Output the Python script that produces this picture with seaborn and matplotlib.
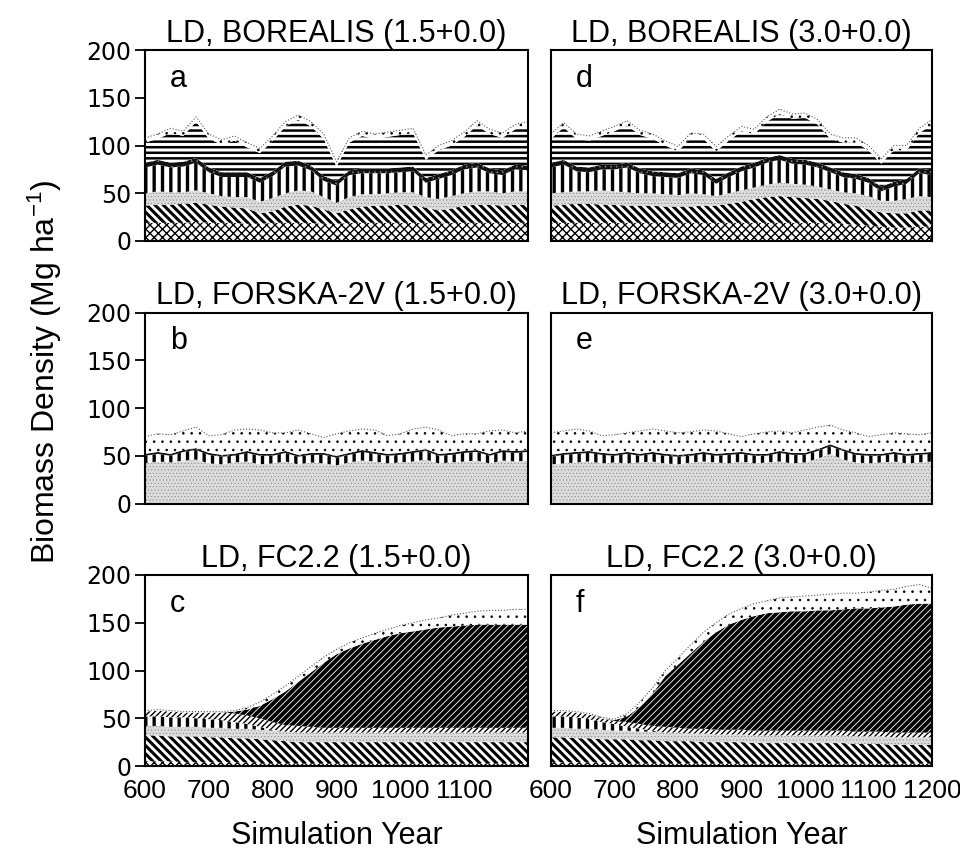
import numpy as np
import matplotlib
matplotlib.use("Agg")
import matplotlib.pyplot as plt
import seaborn as sns

sns.set_style("white")
plt.rcParams['font.family'] = ['Liberation Sans', 'DejaVu Sans']
plt.rcParams['mathtext.default'] = 'regular'
for k in ['text.color', 'axes.labelcolor', 'xtick.color', 'ytick.color', 'axes.edgecolor']:
    plt.rcParams[k] = 'black'

years = np.arange(600, 1201, 20)

# ---- Panel a: LD, BOREALIS (1.5+0.0) -- cumulative layer tops (Mg/ha)
a_cross = [19,19,19,19,20,19,19,19,18,18,19,19,19,19,18,18,19,19,19,19,19,19,19,18,19,19,19,19,19,19,19]
a_diag  = [37,38,38,39,40,38,36,35,34,29,31,36,38,37,33,29,33,36,37,37,38,37,35,32,34,37,38,38,37,38,38]
a_stip  = [50,52,51,51,53,50,47,46,46,41,45,50,53,52,46,40,46,49,49,50,51,51,46,44,47,50,52,52,50,52,52]
a_vert  = [77,80,77,78,82,72,67,67,67,61,68,78,79,74,63,58,69,71,71,71,72,73,61,65,69,75,77,71,69,75,74]
a_dark  = [82,85,82,83,87,77,72,72,72,66,73,83,84,79,68,63,74,76,76,76,77,78,66,70,74,80,82,76,74,80,79]
a_horiz = [103,107,113,110,125,107,101,105,98,92,105,120,127,120,107,78,103,110,107,109,111,113,85,95,100,109,121,112,108,117,120]
a_total = [108,112,118,115,130,112,106,110,103,97,110,125,132,125,112,83,108,115,112,114,116,118,90,100,105,114,126,117,113,122,125]

# ---- Panel d: LD, BOREALIS (3.0+0.0)
d_cross = [19,19,19,19,19,19,19,19,19,19,19,19,19,19,19,19,19,19,19,19,19,19,19,18,17,16,15,14,14,15,15]
d_diag  = [37,38,39,39,38,38,37,37,37,36,36,36,37,37,39,41,44,46,47,46,45,44,42,39,37,33,30,29,29,32,32]
d_stip  = [50,51,52,52,53,52,51,50,50,49,48,50,49,47,50,53,56,59,61,60,59,57,54,51,50,47,42,42,44,47,46]
d_vert  = [77,80,73,72,75,75,77,71,68,67,66,71,69,60,67,73,77,82,85,81,80,77,72,67,65,61,52,57,60,71,69]
d_dark  = [82,85,78,77,80,80,82,76,73,72,71,76,74,65,72,78,82,87,90,86,85,82,77,72,70,66,57,62,65,76,74]
d_horiz = [107,119,107,105,110,115,121,111,107,100,94,108,107,94,105,115,112,125,133,128,129,122,107,103,103,95,81,95,95,113,122]
d_total = [112,124,112,110,115,120,126,116,112,105,99,113,112,99,110,120,117,130,138,133,134,127,112,108,108,100,86,100,100,118,127]

# ---- Panel b: LD, FORSKA-2V (1.5+0.0)
b_stip  = [42,44,43,45,46,42,41,43,44,41,42,44,41,43,42,40,43,45,44,42,43,44,46,42,43,44,45,42,45,44,45]
b_vert  = [50,52,50,54,56,51,49,50,53,50,50,53,49,51,51,48,51,54,52,50,51,53,55,50,51,53,54,50,54,53,54]
b_dark  = [52,54,52,56,58,53,51,52,55,52,52,55,51,53,53,50,53,56,54,52,53,55,57,52,53,55,56,52,56,55,56]
b_total = [70,73,72,76,80,71,72,77,78,77,74,74,77,73,69,73,76,78,77,71,73,78,80,77,71,73,73,76,77,74,76]

# ---- Panel e: LD, FORSKA-2V (3.0+0.0)
e_stip  = [41,42,43,44,42,43,42,43,44,42,41,43,44,43,42,44,42,43,44,42,43,47,52,46,43,42,43,44,42,43,44]
e_vert  = [49,51,52,53,51,50,52,50,52,50,49,50,52,50,51,52,50,50,53,51,51,55,60,55,51,50,50,52,50,51,52]
e_dark  = [51,53,54,55,53,52,54,52,54,52,51,52,54,52,53,54,52,52,55,53,53,57,62,57,53,52,52,54,52,53,54]
e_total = [74,76,78,76,71,72,74,76,78,76,74,75,77,76,73,70,73,75,76,74,77,80,82,77,74,70,72,74,73,72,74]

# ---- Panel c: LD, FC2.2 (1.5+0.0)
c_cross = [5,5,5,4,4,4,4,4,4,3,3,3,3,3,3,3,3,3,3,3,3,3,3,3,3,3,3,3,3,3,3]
c_diag  = [32,32,31,31,31,30,30,29,29,28,27,26,25,25,25,25,25,25,25,25,25,25,25,25,25,25,25,25,25,25,25]
c_stip  = [42,42,41,41,41,40,40,39,39,38,37,36,35,35,35,35,35,35,35,35,35,35,35,35,35,35,35,35,35,35,35]
c_vert  = [52,52,51,51,50,49,48,46,44,41,38,36,35,35,35,35,35,35,35,35,35,35,35,35,35,35,35,35,35,35,35]
c_fwd   = [57,58,57,56,56,56,56,55,53,50,46,43,42,41,40,40,40,40,40,40,40,40,40,40,40,40,40,40,40,40,40]
c_black = [57,58,57,56,56,56,56,57,59,63,70,78,88,98,108,117,123,128,132,136,139,141,143,145,146,147,148,148,148,148,148]
c_total = [58,59,58,57,57,57,57,58,61,67,75,84,94,104,114,122,129,134,139,143,147,150,153,155,158,160,162,163,163,164,164]

# ---- Panel f: LD, FC2.2 (3.0+0.0)
f_cross = [4,4,4,4,4,4,3,3,3,3,3,3,3,3,3,3,3,3,3,3,3,3,3,3,3,3,3,3,3,3,3]
f_diag  = [30,30,29,29,28,28,28,27,27,26,26,26,25,25,25,25,24,24,24,24,24,24,24,24,23,23,23,22,22,22,22]
f_stip  = [40,40,39,39,38,37,37,36,36,35,35,34,34,33,33,33,32,32,32,32,32,32,32,32,31,31,31,30,30,30,30]
f_vert  = [52,52,51,49,46,44,41,39,37,35,35,34,34,33,33,33,32,32,32,32,32,32,32,32,31,31,31,30,30,30,30]
f_fwd   = [57,57,56,54,50,47,46,44,42,41,40,39,39,38,38,38,37,37,37,37,37,37,37,37,36,36,36,35,35,35,35]
f_black = [57,57,56,54,50,48,52,62,76,94,106,118,130,140,148,153,157,160,161,162,162,163,163,164,165,165,166,167,169,170,170]
f_total = [58,58,57,55,51,49,55,67,82,100,113,127,140,150,159,165,170,173,176,177,178,179,180,181,181,182,184,185,188,190,186]

STYLE = {
    'cross': dict(fc='white', ec='black', hatch='xxxx', hlw=1.0),
    'diag':  dict(fc='white', ec='black', hatch='\\' * 4, hlw=2.2),
    'stip':  dict(fc='#dcdcdc', ec='#8a8a8a', hatch='.....', hlw=0.4),
    'vert':  dict(fc='white', ec='black', hatch='||', hlw=2.4),
    'dark':  dict(fc='#111111', ec='#888888', hatch='...', hlw=0.4),
    'horiz': dict(fc='white', ec='black', hatch='---', hlw=1.8),
    'dots':  dict(fc='white', ec='black', hatch='..', hlw=0.6),
    'fwd':   dict(fc='white', ec='black', hatch='//////', hlw=1.0),
    'black': dict(fc='black', ec='white', hatch='/////', hlw=0.6),
}

def layer(ax, lo, hi, key):
    st = STYLE[key]
    with plt.rc_context({'hatch.linewidth': st['hlw'], 'hatch.color': st['ec']}):
        coll = ax.fill_between(years, lo, hi, facecolor=st['fc'], edgecolor=st['ec'],
                               hatch=st['hatch'], linewidth=0)
    if hasattr(coll, 'set_hatch_linewidth'):
        coll.set_hatch_linewidth(st['hlw'])

panels = [
    (0, 0, 'LD, BOREALIS (1.5+0.0)', 'a',
     [('cross', a_cross), ('diag', a_diag), ('stip', a_stip), ('vert', a_vert),
      ('dark', a_dark), ('horiz', a_horiz), ('dots', a_total)]),
    (0, 1, 'LD, BOREALIS (3.0+0.0)', 'd',
     [('cross', d_cross), ('diag', d_diag), ('stip', d_stip), ('vert', d_vert),
      ('dark', d_dark), ('horiz', d_horiz), ('dots', d_total)]),
    (1, 0, 'LD, FORSKA-2V (1.5+0.0)', 'b',
     [('stip', b_stip), ('vert', b_vert), ('dark', b_dark), ('dots', b_total)]),
    (1, 1, 'LD, FORSKA-2V (3.0+0.0)', 'e',
     [('stip', e_stip), ('vert', e_vert), ('dark', e_dark), ('dots', e_total)]),
    (2, 0, 'LD, FC2.2 (1.5+0.0)', 'c',
     [('cross', c_cross), ('diag', c_diag), ('stip', c_stip), ('vert', c_vert),
      ('fwd', c_fwd), ('black', c_black), ('dots', c_total)]),
    (2, 1, 'LD, FC2.2 (3.0+0.0)', 'f',
     [('cross', f_cross), ('diag', f_diag), ('stip', f_stip), ('vert', f_vert),
      ('fwd', f_fwd), ('black', f_black), ('dots', f_total)]),
]

W, H = 960, 852
fig = plt.figure(figsize=(W / 100, H / 100), dpi=100)
col_x = [(145, 383), (551, 381)]
row_top = [50, 312.5, 575]
ph = 191

for row, col, title, letter, layers in panels:
    x0, w = col_x[col]
    ax = fig.add_axes([x0 / W, 1 - (row_top[row] + ph) / H, w / W, ph / H])
    lo = np.zeros(len(years))
    for key, top in layers:
        layer(ax, lo, top, key)
        lo = np.asarray(top, dtype=float)
    sns.lineplot(x=years, y=layers[-1][1], ax=ax, color='0.35', lw=0.8,
                 linestyle=':', legend=False)
    ax.set_xlim(600, 1200)
    ax.set_ylim(0, 200)
    for s in ax.spines.values():
        s.set_visible(True)
        s.set_color('black')
        s.set_linewidth(1.5)
    ax.set_yticks([0, 50, 100, 150, 200])
    if col == 0:
        ax.tick_params(axis='y', left=True, direction='out', length=7, width=1.3,
                       labelsize=17, pad=3, colors='black')
        for lb in ax.get_yticklabels():
            lb.set_fontfamily('DejaVu Sans')
    else:
        ax.tick_params(axis='y', left=False, labelleft=False)
    if row == 2:
        ticks = [600, 700, 800, 900, 1000, 1100] if col == 0 else [600, 700, 800, 900, 1000, 1100, 1200]
        ax.set_xticks(ticks)
        ax.tick_params(axis='x', bottom=False, length=0, labelsize=19, pad=9, colors='black')
        fig.text((x0 + w / 2) / W, 1 - 836 / H, 'Simulation Year', ha='center', va='center',
                 fontsize=22)
    else:
        ax.set_xticks([])
    ax.set_xlabel('')
    ax.set_ylabel('')
    ax.set_title(title, fontsize=22, pad=6)
    ax.text(0.065, 0.85, letter, transform=ax.transAxes, ha='left', va='center', fontsize=22)

fig.text(45 / W, 1 - 372 / H, 'Biomass Density (Mg ha$^{-1}$)', rotation=90,
         ha='center', va='center', fontsize=23)

fig.savefig('out.png', dpi=100)
